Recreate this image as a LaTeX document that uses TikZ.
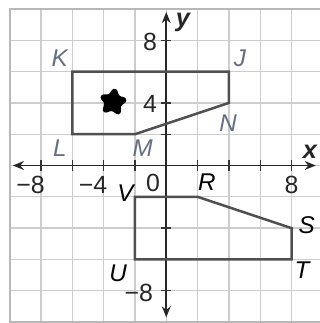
\documentclass[tikz,border=0pt]{standalone}
\usepackage{fontspec}
\setmainfont{Liberation Sans}
\usetikzlibrary{arrows.meta,shapes.geometric}
\definecolor{gridc}{RGB}{205,205,205}
\definecolor{bluegray}{RGB}{100,110,132}
\definecolor{shapec}{RGB}{80,80,80}
\begin{document}
\begin{tikzpicture}[x=0.25cm,y=0.25cm,
  gridline/.style={draw=gridc,line width=0.6pt},
  border/.style={draw=gridc!90!black,line width=0.9pt},
  axis/.style={draw=black!85,line width=0.8pt,{Stealth[length=5pt,width=4pt]}-{Stealth[length=5pt,width=4pt]}},
  tick/.style={draw=black!80,line width=0.6pt},
  figline/.style={draw=shapec,line width=1.15pt,line join=miter},
  numlbl/.style={font=\fontsize{11.3}{13}\selectfont,text=black!85,inner sep=0pt},
  glbl/.style={font=\fontsize{11}{13}\selectfont\itshape,text=bluegray,inner sep=0pt},
  klbl/.style={font=\fontsize{11}{13}\selectfont\itshape,text=black,inner sep=0pt},
  axlbl/.style={font=\fontsize{11.5}{13}\selectfont\bfseries\itshape,text=black!85,inner sep=0pt}]
\useasboundingbox (-10.62,-10.06) rectangle (9.81,10.57);
\clip (-10.62,-10.06) rectangle (9.81,10.57);
% grid
\foreach \v in {-8,-6,...,10} \draw[gridline] (\v,-10) -- (\v,10);
\foreach \v in {-8,-6,...,8} \draw[gridline] (-10,\v) -- (10,\v);
\draw[border] (-10,-10) rectangle (10,10);
% axes
\coordinate (xl) at (-9.8,0);
\coordinate (xr) at (9.55,0);
\coordinate (yb) at (0,-9.7);
\coordinate (yt) at (0,9.8);
\draw[axis] (xl) -- (xr);
\draw[axis] (yb) -- (yt);
\foreach \v in {-8,-6,-4,-2,2,4,6,8} {
  \draw[tick] (\v,-0.32) -- (\v,0.32);
  \draw[tick] (-0.32,\v) -- (0.32,\v);
}
\node[axlbl] (xlab) at (9.18,0.86) {x};
\node[axlbl] (ylab) at (1.06,9.16) {y};
% axis numbers
\node[numlbl] (nxm8) at (-8.67,-1.25) {−8};
\node[numlbl] (nxm4) at (-4.68,-1.25) {−4};
\node[numlbl] (nx0) at (-0.85,-1.1) {0};
\node[numlbl] (nx8) at (8.0,-1.25) {8};
\node[numlbl] (ny8) at (-1.04,7.87) {8};
\node[numlbl] (ny4) at (-1.04,3.96) {4};
\node[numlbl] (nym8) at (-1.75,-8.15) {−8};
% figure KJNML
\coordinate (K) at (-6,6);
\coordinate (J) at (4,6);
\coordinate (N) at (4,4);
\coordinate (M) at (-2,2);
\coordinate (L) at (-6,2);
\draw[figline] (K) -- (J) -- (N) -- (M) -- (L) -- cycle;
\node[glbl] (lK) at (-6.8,6.85) {K};
\node[glbl] (lJ) at (4.7,6.85) {J};
\node[glbl] (lN) at (3.95,2.7) {N};
\node[glbl] (lL) at (-6.8,1.1) {L};
\node[glbl] (lM) at (-1.5,1.1) {M};
% star
\node[star,star points=5,star point ratio=2.0,fill=black,draw=black,line width=1.6pt,
  line join=round,rounded corners=1.2pt,minimum size=1.7*0.25cm,inner sep=0pt,rotate=-8] (star) at (-3.4,4.05) {};
% figure VRSTU
\coordinate (V) at (-2,-2);
\coordinate (R) at (2,-2);
\coordinate (S) at (8,-4);
\coordinate (T) at (8,-6);
\coordinate (U) at (-2,-6);
\draw[figline] (V) -- (R) -- (S) -- (T) -- (U) -- cycle;
\node[klbl] (lV) at (-2.6,-1.77) {V};
\node[klbl] (lR) at (2.6,-1.05) {R};
\node[klbl] (lS) at (8.97,-3.8) {S};
\node[klbl] (lT) at (8.67,-6.67) {T};
\node[klbl] (lU) at (-3.07,-6.87) {U};
\end{tikzpicture}
\end{document}
